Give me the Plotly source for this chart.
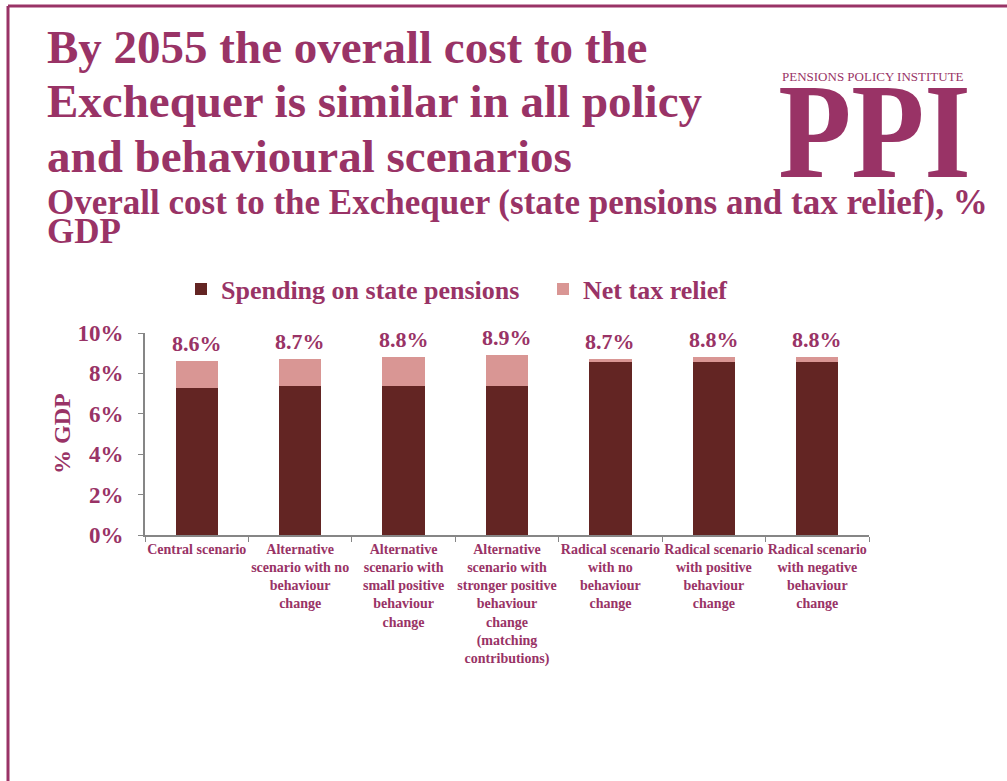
import plotly.graph_objects as go

# Scenario labels (x-axis categories)
scenarios = [
    "Central scenario",
    "Alternative<br>scenario with no<br>behaviour<br>change",
    "Alternative<br>scenario with<br>small positive<br>behaviour<br>change",
    "Alternative<br>scenario with<br>stronger positive<br>behaviour<br>change<br>(matching<br>contributions)",
    "Radical scenario<br>with no<br>behaviour<br>change",
    "Radical scenario<br>with positive<br>behaviour<br>change",
    "Radical scenario<br>with negative<br>behaviour<br>change",
]

# Cost to the Exchequer in 2055, % GDP
state_pensions = [7.3, 7.4, 7.4, 7.4, 8.55, 8.55, 8.55]
net_tax_relief = [1.3, 1.3, 1.4, 1.5, 0.15, 0.25, 0.25]

y_ticks = [0, 2, 4, 6, 8, 10]
y_tick_labels = ["0%", "2%", "4%", "6%", "8%", "10%"]

PURPLE = "#993366"
DARK = "#632523"
LIGHT = "#D99694"
AXIS = "#868686"
SERIF = "Liberation Serif"

# Plot-area geometry in page pixels
W, H = 1007, 781
L, R, T, B = 145, 138, 333, 246
PW, PH = W - L - R, H - T - B


def px_x(x):
    return (x - L) / PW


def px_y(y):
    return (H - B - y) / PH


fig = go.Figure()
fig.add_trace(go.Bar(
    x=scenarios, y=state_pensions, name="Spending on state pensions",
    marker=dict(color=DARK, line=dict(width=0)),
))
fig.add_trace(go.Bar(
    x=scenarios, y=net_tax_relief, name="Net tax relief",
    marker=dict(color=LIGHT, line=dict(width=0)),
))

annotations = []

# Total labels above each stacked bar
for cat, sp, tr in zip(scenarios, state_pensions, net_tax_relief):
    total = sp + tr
    annotations.append(dict(
        x=cat, y=total, xref="x", yref="y", text=f"{total:.1f}%",
        showarrow=False, yanchor="bottom", yshift=3,
        font=dict(family=SERIF, size=22, color=PURPLE, weight="bold"),
    ))

# Headline
title_lines = [
    ("By 2055 the overall cost to the", 47),
    ("Exchequer is similar in all policy", 101),
    ("and behavioural scenarios", 156),
]
for text, yc in title_lines:
    annotations.append(dict(
        x=px_x(45), y=px_y(yc), xref="paper", yref="paper", text=text,
        showarrow=False, xanchor="left", yanchor="middle",
        font=dict(family=SERIF, size=47, color=PURPLE, weight="bold"),
    ))

# Chart subtitle
for text, yc in [("Overall cost to the Exchequer (state pensions and tax relief), %", 202),
                 ("GDP", 231)]:
    annotations.append(dict(
        x=px_x(45), y=px_y(yc), xref="paper", yref="paper", text=text,
        showarrow=False, xanchor="left", yanchor="middle",
        font=dict(family=SERIF, size=35, color=PURPLE, weight="bold"),
    ))

# Logo
annotations.append(dict(
    x=px_x(873), y=px_y(76), xref="paper", yref="paper",
    text="PENSIONS POLICY INSTITUTE", showarrow=False,
    xanchor="center", yanchor="middle",
    font=dict(family=SERIF, size=13, color=PURPLE),
))
annotations.append(dict(
    x=px_x(874), y=px_y(131), xref="paper", yref="paper",
    text="PPI", showarrow=False, xanchor="center", yanchor="middle",
    font=dict(family=SERIF, size=136, color=PURPLE, weight="bold"),
))

# Y-axis title
annotations.append(dict(
    x=px_x(62), y=px_y(434), xref="paper", yref="paper", text="% GDP",
    showarrow=False, textangle=-90, xanchor="center", yanchor="middle",
    font=dict(family=SERIF, size=24, color=PURPLE, weight="bold"),
))

# Page frame
shapes = [
    dict(type="line", xref="paper", yref="paper",
         x0=px_x(8), x1=px_x(1010), y0=px_y(6), y1=px_y(6),
         line=dict(color=PURPLE, width=3)),
    dict(type="line", xref="paper", yref="paper",
         x0=px_x(8), x1=px_x(8), y0=px_y(6), y1=px_y(790),
         line=dict(color=PURPLE, width=3)),
]

fig.update_layout(
    width=W, height=H,
    margin=dict(l=L, r=R, t=T, b=B, pad=0),
    barmode="stack", bargap=0.59,
    plot_bgcolor="white", paper_bgcolor="white",
    showlegend=True,
    legend=dict(
        orientation="h", x=px_x(181), y=px_y(289), xanchor="left", yanchor="middle",
        traceorder="normal",
        font=dict(family=SERIF, size=26, color=PURPLE, weight="bold"),
        entrywidth=317, entrywidthmode="pixels",
        bgcolor="rgba(0,0,0,0)", itemclick=False,
    ),
    xaxis=dict(
        type="category", range=[-0.5, 6.5],
        showline=True, linecolor=AXIS, linewidth=2,
        ticks="outside", tickson="boundaries", ticklen=5, tickcolor=AXIS, tickwidth=1,
        tickangle=0,
        tickfont=dict(family=SERIF, size=14, color=PURPLE, weight="bold"),
        showgrid=False, zeroline=False,
    ),
    yaxis=dict(
        range=[0, 10], tickvals=y_ticks, ticktext=y_tick_labels,
        showline=True, linecolor=AXIS, linewidth=2,
        ticks="outside", ticklen=5, tickcolor=AXIS, tickwidth=1,
        ticklabelstandoff=10,
        tickfont=dict(family=SERIF, size=23, color=PURPLE, weight="bold"),
        showgrid=False, zeroline=False,
    ),
    annotations=annotations,
    shapes=shapes,
)

# Narrow the logo lettering
post_js = """
document.querySelectorAll('text.annotation-text').forEach(function(t){
  if (t.textContent === 'PPI') {
    t.style.transformBox = 'fill-box';
    t.style.transformOrigin = 'center';
    t.style.transform = 'scaleX(0.88)';
  }
});
"""

fig.write_html("out.html", post_script=post_js)
